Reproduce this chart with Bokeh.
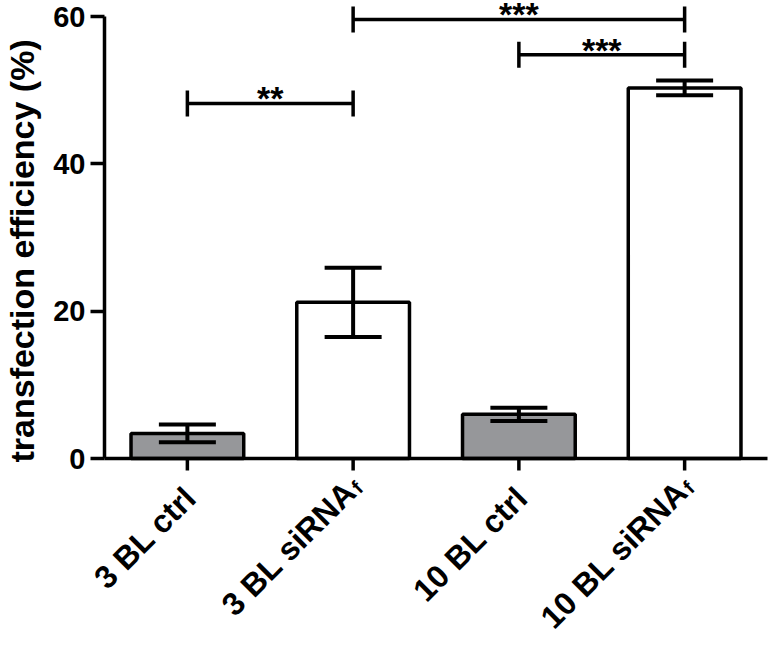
import math
from bokeh.plotting import figure
from bokeh.models import (Range1d, FixedTicker, Whisker, TeeHead, ColumnDataSource,
                          Label, Title)
from bokeh.embed import file_html
from bokeh.resources import INLINE

# ---- data ----
categories = ["3 BL ctrl", "3 BL siRNA", "10 BL ctrl", "10 BL siRNA"]
subscripts = ["", "f", "", "f"]
means = [3.4, 21.2, 6.0, 50.3]
errors = [1.2, 4.7, 0.9, 1.0]
bar_colors = ["#96979a", "#ffffff", "#96979a", "#ffffff"]
y_ticks = [0, 20, 40, 60]
sig_pairs = [(0, 1), (1, 3), (2, 3)]
sig_heights = [48.2, 59.6, 54.8]
sig_labels = ["**", "***", "***"]
y_title = "transfection efficiency (%)"

FONT = "Liberation Sans"
xs = [i + 1 for i in range(len(categories))]
X_START, X_END = xs[0] - 0.5, xs[-1] + 0.5   # extent of the x axis line
Y_START, Y_END = y_ticks[0], y_ticks[-1]

# ---- layout (pixels) ----
W, H = 770, 646
FRAME_LEFT, AXIS_PX, RIGHT_PX = 40, 104, 767
ZERO_PX, TOP_PX = 458, 16
ppu_y = (ZERO_PX - TOP_PX) / (Y_END - Y_START)
ppu_x = (RIGHT_PX - AXIS_PX) / (X_END - X_START)
x_lo = X_START - (AXIS_PX - FRAME_LEFT) / ppu_x
x_hi = X_END + (W - RIGHT_PX) / ppu_x
y_lo = Y_START - (H - ZERO_PX) / ppu_y
y_hi = Y_END + TOP_PX / ppu_y

src = ColumnDataSource(dict(
    x=xs, top=means, color=bar_colors,
    upper=[m + e for m, e in zip(means, errors)],
    lower=[m - e for m, e in zip(means, errors)],
))

p = figure(width=W, height=H, output_backend="svg", toolbar_location=None,
           x_range=Range1d(x_lo, x_hi), y_range=Range1d(y_lo, y_hi),
           x_axis_location=None,
           min_border_left=FRAME_LEFT, min_border_right=0, min_border_top=0,
           min_border_bottom=0)
p.outline_line_color = None
p.grid.visible = False
p.background_fill_color = "white"
p.border_fill_color = "white"

p.vbar(x="x", top="top", bottom=0, width=0.68, fill_color="color",
       line_color="black", line_width=3.5, source=src)

p.add_layout(Whisker(source=src, base="x", upper="upper", lower="lower",
                     dimension="height", line_width=4, line_color="black",
                     level="overlay",
                     upper_head=TeeHead(size=57, line_width=4, line_color="black"),
                     lower_head=TeeHead(size=57, line_width=4, line_color="black")))

# x axis line and ticks (drawn in data space at y = 0)
p.segment(x0=[X_START], x1=[X_END], y0=[0], y1=[0], line_color="black", line_width=3.5)
tick_units = 12 / ppu_y
p.segment(x0=xs, x1=xs, y0=[0] * len(xs), y1=[-tick_units] * len(xs),
          line_color="black", line_width=3.5)

# significance brackets
bsrc = ColumnDataSource(dict(
    base=sig_heights,
    lower=[xs[a] for a, b in sig_pairs],
    upper=[xs[b] for a, b in sig_pairs],
))
p.add_layout(Whisker(source=bsrc, base="base", upper="upper", lower="lower",
                     dimension="width", line_width=3.5, line_color="black",
                     level="overlay",
                     upper_head=TeeHead(size=26, line_width=3.5, line_color="black"),
                     lower_head=TeeHead(size=26, line_width=3.5, line_color="black")))
for (a, b), h, t in zip(sig_pairs, sig_heights, sig_labels):
    p.add_layout(Label(x=(xs[a] + xs[b]) / 2, y=h, text=t, text_align="center",
                       text_baseline="alphabetic", y_offset=5,
                       text_font=FONT, text_font_size="34px",
                       text_font_style="bold", text_color="black"))

# y axis (drawn at x = X_START, inside the wider frame)
ya = p.yaxis[0]
ya.fixed_location = X_START
ya.ticker = FixedTicker(ticks=y_ticks)
ya.bounds = (Y_START, Y_END)
ya.axis_line_width = 3.5
ya.major_tick_line_width = 3.5
ya.major_tick_out = 14
ya.major_tick_in = 0
ya.minor_tick_out = 0
ya.minor_tick_in = 0
ya.major_label_standoff = 5
ya.major_label_text_font = FONT
ya.major_label_text_font_size = "29px"
ya.major_label_text_font_style = "bold"
ya.major_label_text_color = "black"

# y axis title as a left-side title (positioned from the bottom edge)
p.add_layout(Title(text=y_title, align="left", offset=H - 462, standoff=0,
                   text_font=FONT, text_font_size="34px",
                   text_font_style="bold", text_color="black"), "left")

# rotated category labels (with subscripts)
ang = math.pi / 4
c = math.cos(ang)
ax, ay = 3, -34            # baseline end of label relative to tick (px, up positive)
for x, cat, sub in zip(xs, categories, subscripts):
    ex, ey = ax, ay
    if sub:
        back = 8
        ex, ey = ax - back * c, ay + back * c
        drop = 5
        p.add_layout(Label(x=x, y=0, text=sub, angle=ang, text_align="left",
                           text_baseline="alphabetic",
                           x_offset=ex + 1 * c + drop * c,
                           y_offset=ey + 1 * c - drop * c,
                           text_font=FONT, text_font_size="20px",
                           text_font_style="bold", text_color="black"))
    p.add_layout(Label(x=x, y=0, text=cat, angle=ang, text_align="right",
                       text_baseline="alphabetic", x_offset=ex, y_offset=ey,
                       text_font=FONT, text_font_size="32px",
                       text_font_style="bold", text_color="black"))

open("out.html", "w").write(file_html(p, INLINE))
